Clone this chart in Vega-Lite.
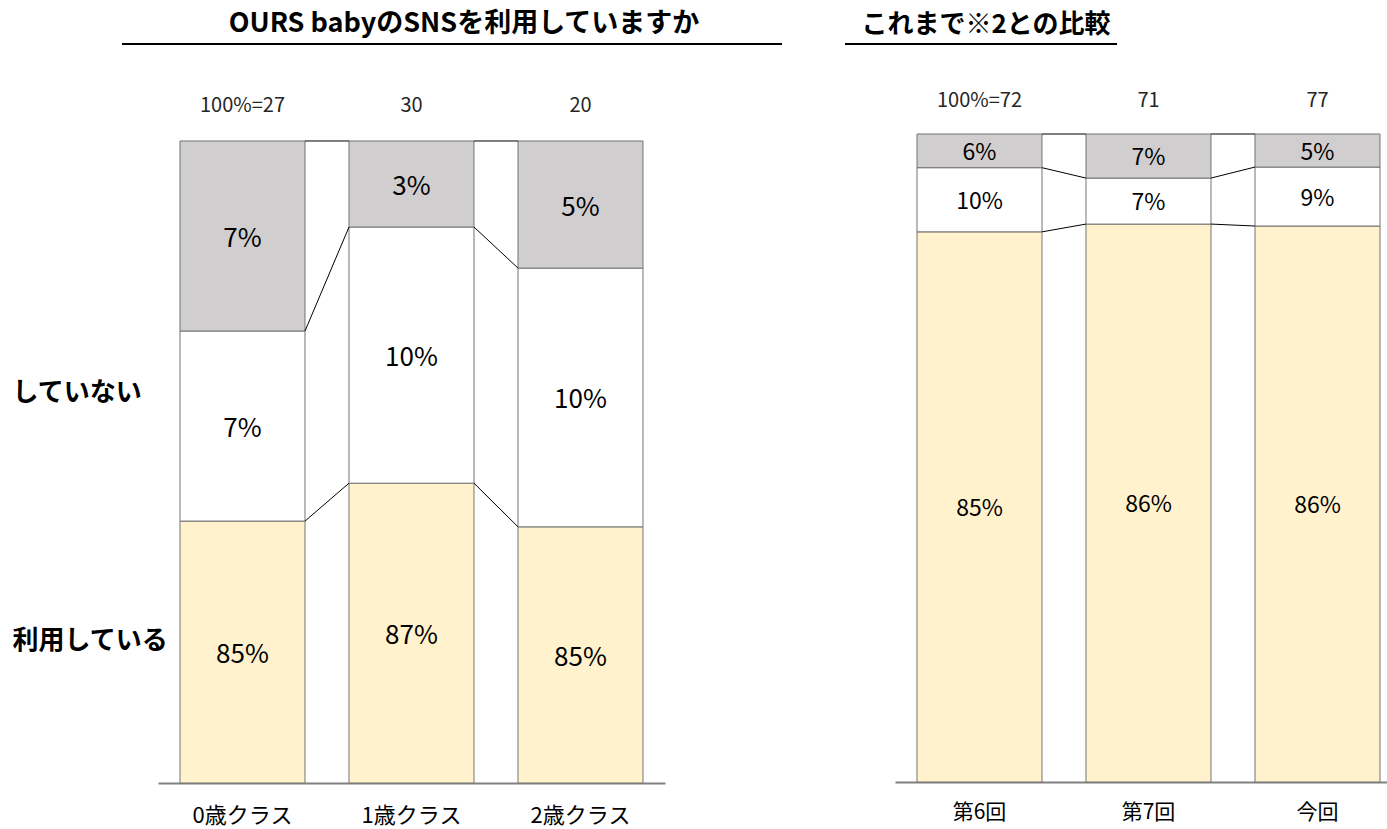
{
  "$schema": "https://vega.github.io/schema/vega-lite/v6.json",
  "background": "#ffffff",
  "padding": {"left": 12, "top": 10, "right": 0, "bottom": 1},
  "spacing": 63,
  "config": {"view": {"stroke": null}, "font": "Noto Sans CJK JP"},
  "datasets": {
    "left": [
      {"cls": "0歳クラス", "i": 1, "seg": "利用している", "k": 1, "value": 40.8, "label": "85%"},
      {"cls": "0歳クラス", "i": 1, "seg": "していない", "k": 2, "value": 29.6, "label": "7%"},
      {"cls": "0歳クラス", "i": 1, "seg": "無回答", "k": 3, "value": 29.6, "label": "7%"},
      {"cls": "1歳クラス", "i": 2, "seg": "利用している", "k": 1, "value": 46.7, "label": "87%"},
      {"cls": "1歳クラス", "i": 2, "seg": "していない", "k": 2, "value": 39.9, "label": "10%"},
      {"cls": "1歳クラス", "i": 2, "seg": "無回答", "k": 3, "value": 13.4, "label": "3%"},
      {"cls": "2歳クラス", "i": 3, "seg": "利用している", "k": 1, "value": 39.9, "label": "85%"},
      {"cls": "2歳クラス", "i": 3, "seg": "していない", "k": 2, "value": 40.3, "label": "10%"},
      {"cls": "2歳クラス", "i": 3, "seg": "無回答", "k": 3, "value": 19.8, "label": "5%"}
    ],
    "leftN": [
      {"cls": "0歳クラス", "n": 27, "t": "100%=27"},
      {"cls": "1歳クラス", "n": 30, "t": "30"},
      {"cls": "2歳クラス", "n": 20, "t": "20"}
    ],
    "right": [
      {"cls": "第6回", "i": 1, "seg": "利用している", "k": 1, "value": 84.9, "label": "85%"},
      {"cls": "第6回", "i": 1, "seg": "していない", "k": 2, "value": 9.9, "label": "10%"},
      {"cls": "第6回", "i": 1, "seg": "無回答", "k": 3, "value": 5.2, "label": "6%"},
      {"cls": "第7回", "i": 2, "seg": "利用している", "k": 1, "value": 86.1, "label": "86%"},
      {"cls": "第7回", "i": 2, "seg": "していない", "k": 2, "value": 7.1, "label": "7%"},
      {"cls": "第7回", "i": 2, "seg": "無回答", "k": 3, "value": 6.8, "label": "7%"},
      {"cls": "今回", "i": 3, "seg": "利用している", "k": 1, "value": 85.8, "label": "86%"},
      {"cls": "今回", "i": 3, "seg": "していない", "k": 2, "value": 9.1, "label": "9%"},
      {"cls": "今回", "i": 3, "seg": "無回答", "k": 3, "value": 5.1, "label": "5%"}
    ],
    "rightN": [
      {"cls": "第6回", "n": 72, "t": "100%=72"},
      {"cls": "第7回", "n": 71, "t": "71"},
      {"cls": "今回", "n": 77, "t": "77"}
    ]
  },
  "hconcat": [
    {
      "width": 507,
      "height": 649,
      "title": {"text": "OURS babyのSNSを利用していますか", "fontSize": 27, "fontWeight": "bold", "font": "Noto Sans CJK JP", "color": "#000000", "anchor": "middle", "frame": "group", "dx": 52.5, "offset": 5},
      "layer": [
        {
          "data": {"name": "left"},
          "mark": {"type": "bar", "stroke": "#737373", "strokeWidth": 1},
          "encoding": {
            "x": {"field": "cls", "type": "nominal", "title": null,
              "scale": {"type": "band", "domain": ["0歳クラス", "1歳クラス", "2歳クラス"], "paddingInner": 0.2604, "paddingOuter": 0.1302},
              "axis": {"orient": "bottom", "domainColor": "#808080", "domainWidth": 2, "ticks": false, "labelPadding": 22, "labelFontSize": 22, "labelFont": "Noto Sans CJK JP", "labelColor": "#000000", "labelAngle": 0, "title": null}},
            "y": {"field": "value", "type": "quantitative", "stack": "normalize", "title": null,
              "scale": {"domain": [0, 1.0109], "nice": false, "zero": true},
              "axis": {"orient": "left", "values": [0.2227, 0.6075], "labelExpr": "datum.value < 0.4 ? '利用している' : 'していない'", "ticks": false, "tickSize": 0, "domain": false, "grid": false, "labelAlign": "left", "labelBaseline": "middle", "labelPadding": 146, "labelFontSize": 26, "labelFontWeight": "bold", "labelFont": "Noto Sans CJK JP", "labelColor": "#000000", "labelOverlap": false, "title": null}},
            "order": {"field": "k", "type": "quantitative"},
            "color": {"field": "seg", "type": "nominal", "legend": null,
              "scale": {"domain": ["利用している", "していない", "無回答"], "range": ["#fff2cc", "#ffffff", "#d0cece"]}}
          }
        },
        {
          "data": {"name": "left"},
          "mark": {"type": "text", "fontSize": 26, "font": "Noto Sans CJK JP", "color": "#000000", "dy": 3},
          "encoding": {
            "x": {"field": "cls", "type": "nominal", "axis": null,
              "scale": {"type": "band", "domain": ["0歳クラス", "1歳クラス", "2歳クラス"], "paddingInner": 0.2604, "paddingOuter": 0.1302}},
            "y": {"field": "value", "type": "quantitative", "stack": "normalize", "bandPosition": 0.5, "axis": null,
              "scale": {"domain": [0, 1.0109], "nice": false, "zero": true}},
            "order": {"field": "k", "type": "quantitative"},
            "detail": {"field": "seg", "type": "nominal"},
            "text": {"field": "label", "type": "nominal"}
          }
        },
        {
          "data": {"name": "left"},
          "transform": [
            {"stack": "value", "groupby": ["cls"], "sort": [{"field": "k", "order": "ascending"}], "offset": "normalize", "as": ["v0", "v1"]},
            {"window": [{"op": "lead", "field": "v1", "as": "nv1"}, {"op": "lead", "field": "cls", "as": "ncls"}], "groupby": ["k"], "sort": [{"field": "i", "order": "ascending"}]},
            {"filter": "datum.ncls != null"}
          ],
          "mark": {"type": "rule", "color": "#000000", "strokeWidth": 1, "xOffset": 62.5, "x2Offset": -62.5},
          "encoding": {
            "x": {"field": "cls", "type": "nominal", "axis": null,
              "scale": {"type": "band", "domain": ["0歳クラス", "1歳クラス", "2歳クラス"], "paddingInner": 0.2604, "paddingOuter": 0.1302}},
            "x2": {"field": "ncls"},
            "y": {"field": "v1", "type": "quantitative", "axis": null,
              "scale": {"domain": [0, 1.0109], "nice": false, "zero": true}},
            "y2": {"field": "nv1"}
          }
        },
        {
          "data": {"name": "leftN"},
          "mark": {"type": "text", "fontSize": 20, "font": "Noto Sans CJK JP", "color": "#262626", "dy": -35},
          "encoding": {
            "x": {"field": "cls", "type": "nominal", "axis": null,
              "scale": {"type": "band", "domain": ["0歳クラス", "1歳クラス", "2歳クラス"], "paddingInner": 0.2604, "paddingOuter": 0.1302}},
            "y": {"datum": 1, "type": "quantitative", "axis": null,
              "scale": {"domain": [0, 1.0109], "nice": false, "zero": true}},
            "text": {"field": "t", "type": "nominal"}
          }
        },
        {
          "data": {"values": [{"t": "OURS babyのSNSを利用していますか"}]},
          "mark": {"type": "rect", "color": "#000000"},
          "encoding": {
            "x": {"field": "t", "type": "nominal", "axis": null, "scale": {"type": "band", "range": [-36, 624], "paddingInner": 0, "paddingOuter": 0}},
            "y": {"field": "t", "type": "nominal", "axis": null, "scale": {"type": "band", "range": [-91, -89], "paddingInner": 0, "paddingOuter": 0}}
          }
        }
      ],
      "resolve": {"scale": {"x": "independent", "y": "independent"}}
    },
    {
      "width": 492,
      "height": 648,
      "title": {"text": "これまで※2との比較", "fontSize": 26, "fontWeight": "bold", "font": "Noto Sans CJK JP", "color": "#000000", "anchor": "middle", "frame": "group", "dx": -155, "offset": 5},
      "layer": [
        {
          "data": {"name": "right"},
          "mark": {"type": "bar", "stroke": "#737373", "strokeWidth": 1},
          "encoding": {
            "x": {"field": "cls", "type": "nominal", "title": null,
              "scale": {"type": "band", "domain": ["第6回", "第7回", "今回"], "paddingInner": 0.2604, "paddingOuter": 0.0858, "align": 0.7586},
              "axis": {"orient": "bottom", "domainColor": "#808080", "domainWidth": 2, "ticks": false, "labelPadding": 19, "labelFontSize": 21, "labelFont": "Noto Sans CJK JP", "labelColor": "#000000", "labelAngle": 0, "title": null}},
            "y": {"field": "value", "type": "quantitative", "stack": "normalize", "title": null, "axis": null,
              "scale": {"domain": [0, 1], "nice": false, "zero": true}},
            "order": {"field": "k", "type": "quantitative"},
            "color": {"field": "seg", "type": "nominal", "legend": null,
              "scale": {"domain": ["利用している", "していない", "無回答"], "range": ["#fff2cc", "#ffffff", "#d0cece"]}}
          }
        },
        {
          "data": {"name": "right"},
          "mark": {"type": "text", "fontSize": 23, "font": "Noto Sans CJK JP", "color": "#000000", "dy": 2},
          "encoding": {
            "x": {"field": "cls", "type": "nominal", "axis": null,
              "scale": {"type": "band", "domain": ["第6回", "第7回", "今回"], "paddingInner": 0.2604, "paddingOuter": 0.0858, "align": 0.7586}},
            "y": {"field": "value", "type": "quantitative", "stack": "normalize", "bandPosition": 0.5, "axis": null,
              "scale": {"domain": [0, 1], "nice": false, "zero": true}},
            "order": {"field": "k", "type": "quantitative"},
            "detail": {"field": "seg", "type": "nominal"},
            "text": {"field": "label", "type": "nominal"}
          }
        },
        {
          "data": {"name": "right"},
          "transform": [
            {"stack": "value", "groupby": ["cls"], "sort": [{"field": "k", "order": "ascending"}], "offset": "normalize", "as": ["v0", "v1"]},
            {"window": [{"op": "lead", "field": "v1", "as": "nv1"}, {"op": "lead", "field": "cls", "as": "ncls"}], "groupby": ["k"], "sort": [{"field": "i", "order": "ascending"}]},
            {"filter": "datum.ncls != null"}
          ],
          "mark": {"type": "rule", "color": "#000000", "strokeWidth": 1, "xOffset": 62.5, "x2Offset": -62.5},
          "encoding": {
            "x": {"field": "cls", "type": "nominal", "axis": null,
              "scale": {"type": "band", "domain": ["第6回", "第7回", "今回"], "paddingInner": 0.2604, "paddingOuter": 0.0858, "align": 0.7586}},
            "x2": {"field": "ncls"},
            "y": {"field": "v1", "type": "quantitative", "axis": null,
              "scale": {"domain": [0, 1], "nice": false, "zero": true}},
            "y2": {"field": "nv1"}
          }
        },
        {
          "data": {"name": "rightN"},
          "mark": {"type": "text", "fontSize": 20, "font": "Noto Sans CJK JP", "color": "#262626", "dy": -33},
          "encoding": {
            "x": {"field": "cls", "type": "nominal", "axis": null,
              "scale": {"type": "band", "domain": ["第6回", "第7回", "今回"], "paddingInner": 0.2604, "paddingOuter": 0.0858, "align": 0.7586}},
            "y": {"datum": 1, "type": "quantitative", "axis": null,
              "scale": {"domain": [0, 1], "nice": false, "zero": true}},
            "text": {"field": "t", "type": "nominal"}
          }
        },
        {
          "data": {"values": [{"t": "これまで※2との比較"}]},
          "mark": {"type": "rect", "color": "#000000"},
          "encoding": {
            "x": {"field": "t", "type": "nominal", "axis": null, "scale": {"type": "band", "range": [-50, 222], "paddingInner": 0, "paddingOuter": 0}},
            "y": {"field": "t", "type": "nominal", "axis": null, "scale": {"type": "band", "range": [-91, -89], "paddingInner": 0, "paddingOuter": 0}}
          }
        }
      ],
      "resolve": {"scale": {"x": "independent", "y": "independent"}}
    }
  ]
}
